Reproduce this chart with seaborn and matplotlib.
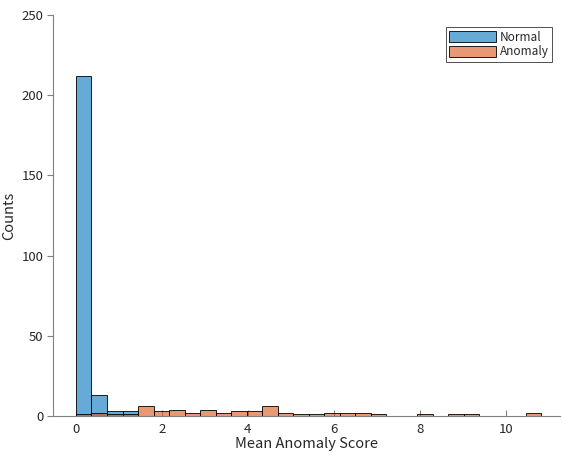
import numpy as np
import pandas as pd
import matplotlib
matplotlib.use('Agg')
import matplotlib.pyplot as plt
import seaborn as sns

# counts per bin, shared bin grid from 0 to ~10.82 (30 bins)
bin_width = 0.3607
n_bins = 30
normal_counts = [212, 13, 3, 3] + [0] * 26
anomaly_counts = [1, 2, 1, 1, 6, 3, 4, 2, 4, 2, 3, 3, 6, 2, 1,
                  1, 2, 2, 2, 1, 0, 0, 1, 0, 1, 1, 0, 0, 0, 2]

centers = (np.arange(n_bins) + 0.5) * bin_width

df = pd.DataFrame({
    'score': np.concatenate([centers, centers]),
    'count': normal_counts + anomaly_counts,
    'group': ['Normal'] * n_bins + ['Anomaly'] * n_bins,
})

sns.set_style('white')
plt.rcParams['font.family'] = ['Noto Sans CJK JP', 'DejaVu Sans']

fig = plt.figure(figsize=(5.62, 4.59), dpi=100)
ax = fig.add_axes([0.0943, 0.0937, 0.9021, 0.8736])

colors = {'Normal': '#0072BD', 'Anomaly': '#D95319'}
for g in ['Normal', 'Anomaly']:
    sub = df[df['group'] == g]
    sns.histplot(data=sub, x='score', weights='count', binwidth=bin_width,
                 binrange=(0, n_bins * bin_width), ax=ax,
                 color=colors[g], alpha=0.6, edgecolor='black', linewidth=0.6,
                 label=g)

ax.set_xlim(-0.535, 11.26)
ax.set_ylim(0, 250)
ax.set_xticks([0, 2, 4, 6, 8, 10])
ax.set_yticks([0, 50, 100, 150, 200, 250])
ax.set_xlabel('Mean Anomaly Score', fontsize=10.5, color='#262626', labelpad=1)
ax.set_ylabel('Counts', fontsize=10.5, color='#262626', labelpad=4)

sns.despine(ax=ax)
for s in ['left', 'bottom']:
    ax.spines[s].set_color('#808080')
    ax.spines[s].set_linewidth(0.8)
ax.tick_params(axis='x', bottom=True, direction='in', length=4, width=0.8,
               color='#808080', labelsize=9.5, labelcolor='#262626', pad=5)
ax.tick_params(axis='y', left=True, direction='out', length=4, width=0.8,
               color='#808080', labelsize=9.5, labelcolor='#262626', pad=3)

leg = ax.legend(loc='upper right', bbox_to_anchor=(0.985, 0.97), fontsize=8.5,
                frameon=True, fancybox=False, edgecolor='black',
                handlelength=4.0, handleheight=1.0, borderpad=0.3,
                labelspacing=0.15, handletextpad=0.3, borderaxespad=0)
leg.get_frame().set_linewidth(0.6)

fig.savefig('out.png', dpi=100)
